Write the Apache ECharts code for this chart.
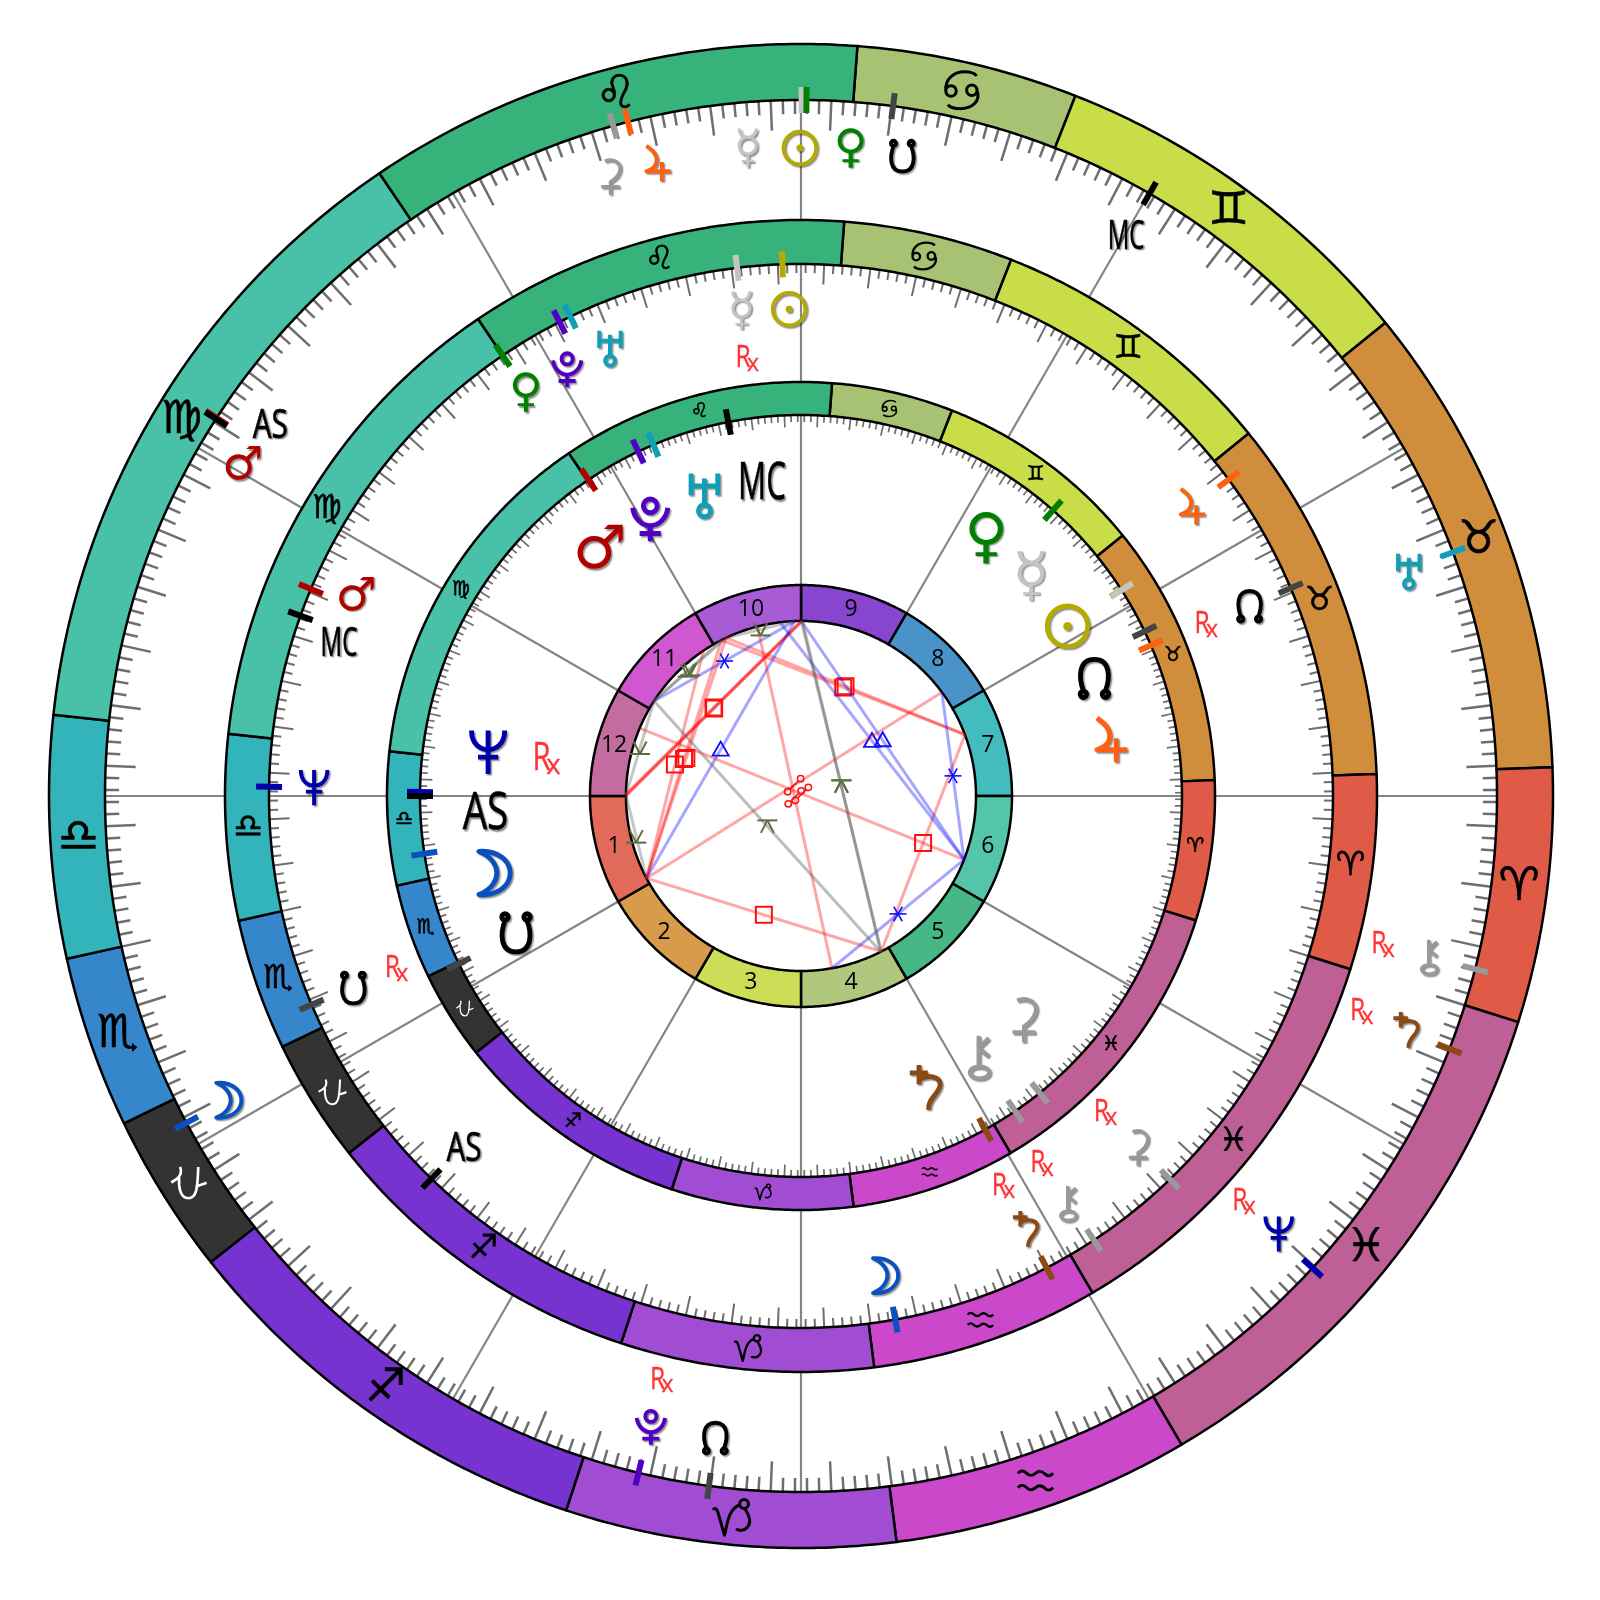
<!DOCTYPE html>
<html><head><meta charset="utf-8">
<style>html,body{margin:0;padding:0;background:#fff}#c{width:1600px;height:1600px}</style>
<script src="https://cdn.jsdelivr.net/npm/echarts@6/dist/echarts.min.js"></script>
</head><body><div id="c"></div>
<script>
// ---- zodiac (clockwise from the top of the wheel) ----
const signNames  = ['Cancer','Gemini','Taurus','Aries','Pisces','Aquarius','Capricorn','Sagittarius','Ophiuchus','Scorpio','Libra','Virgo','Leo'];
const signGlyphs = ['♋','♊','♉','♈','♓','♒','♑','♐','⛎','♏','♎','♍','♌'];
const signStart  = [4.3,21.4,51,87.8,107.5,149.6,172.7,198.2,231.7,244.2,257.5,276.2,325.9];
const signEnd    = [21.4,51,87.8,107.5,149.6,172.7,198.2,231.7,244.2,257.5,276.2,325.9,364.3];
const signLabelAt= [12.9,36.2,69.4,97.3,128.7,161.1,185.4,215,237.8,250.7,266.6,301.2,345.2];
const signColors = ['#a6c272','#c9dd48','#d08e3c','#e05a48','#be5f95','#cb48cb','#a04dd3','#7733d0','#333333','#3686cc','#33b4bb','#48c1a8','#37b27a'];
// ---- houses ----
const houseNumbers = ['9','8','7','6','5','4','3','2','1','12','11','10'];
const houseColors  = ['#8845d0','#4a93c8','#43bcc0','#55c5aa','#46b785','#b0c77e','#cddd58','#d89a4b','#e26a5a','#c36c9f','#d057cf','#a85bd5'];
const houseCusps   = [0,30,60,90,120,150,180,210,240,270,300,330];
// ---- bodies ----
const bodyGlyph = {Mercury:'☿',Venus:'♀',Mars:'♂',AS:'AS',MC:'MC'};
const bodyColor = {Sun:'#b5ab00',Moon:'#0a50c0',Mercury:'#c4c4c4',Venus:'#008000',Mars:'#b00000',Jupiter:'#ff6010',Saturn:'#8b4a14',Uranus:'#0fa0b8',Neptune:'#0000aa',Pluto:'#5200c4',Chiron:'#999999',Ceres:'#999999',NNode:'#444444',SNode:'#444444',AS:'#000000',MC:'#000000'};
// outer wheel
const outerBodies  = ['Ceres','Jupiter','Sun','Mercury','Venus','SNode','MC','Uranus','Chiron','Saturn','Neptune','NNode','Pluto','Moon','Mars','AS'];
const outerMarkers = [344.35,345.6,0.25,0.05,0.45,7.6,30.06,69.5,104.4,111.3,132.7,187.6,193.5,242,302.9,302.8];
const outerLabels  = [342.9,347.3,359.9,355.3,4.4,9,30.1,69.7,104.4,111.1,132.5,187.6,193.4,242,300.5,305];
const outerRetro   = ['Chiron','Saturn','Neptune','Pluto'];
// middle wheel
const middleBodies  = ['Sun','Mercury','Uranus','Pluto','Venus','Mars','MC','Neptune','SNode','AS','Moon','Saturn','Chiron','Ceres','NNode','Jupiter'];
const middleMarkers = [358,353.1,334.3,333,325.9,292.9,289.8,271,246.9,224,169.8,152.5,146.6,136.1,67,53.5];
const middleLabels  = [358.6,353,336.9,331.3,325.6,294,288.4,271,246.8,223.8,170,152.6,146.8,136.2,67.1,53.6];
const middleRetro   = ['Mercury','SNode','Saturn','Chiron','Ceres','NNode'];
// inner wheel
const innerBodies  = ['MC','Uranus','Pluto','Mars','Neptune','AS','Moon','SNode','Saturn','Chiron','Ceres','Jupiter','NNode','Sun','Mercury','Venus'];
const innerMarkers = [349,337.2,334.7,326.1,270.6,270,261.3,243.9,151.1,145.8,141.2,66.7,64.4,57.2,57.3,41.4];
const innerLabels  = [352.9,342.2,331.5,320.4,278,267,255.9,244.4,156.9,145.8,135.1,79.9,68.2,57.5,46.7,35.9];
const innerRetro   = ['Neptune'];
// ---- aspects: [from, to] wheel angle ----
const squares     = [[270.3,0.1],[270,0.45],[270.6,0.25],[242,333],[242,334.7],[242,326.1],[333,69.5],[334.7,69.5],[69.5,152.7],[242,152.7]];
const oppositions = [[242,53.6],[292.8,111.3],[345.6,169.8]];
const trines      = [[242,358],[353.1,111.3],[0.1,111.3]];
const sextiles    = [[302.9,358],[53.6,111.3],[169.8,111.3]];
const semisextiles= [[302.9,334.7],[302.8,333],[334.7,358],[270.3,302.9],[270.3,242]];
const quincunxes  = [[0.1,152.7],[0.45,152.9],[302.9,152.9]];

// ---- glyph outlines (astrological symbols whose drawing style the installed fonts do not have) ----
const circ=(x,y,rx,ry)=>`M${x-rx},${y} A${rx},${ry} 0 1 0 ${x+rx},${y} A${rx},${ry} 0 1 0 ${x-rx},${y} Z `;
const glyphPaths={
  Sun:circ(0,0,44,44)+circ(0,0,4,4),
  Moon:'M-34,-47 C10,-50 34,-25 34,0 C34,25 10,50 -34,47 C-5,35 5,15 5,0 C5,-15 -5,-35 -34,-47 Z',
  Jupiter:'M-33,-49 C-18,-38 -5,-28 -5,-10 C-5,5 -18,15 -33,20 L33,20 M9,-5 L9,47',
  Saturn:'M-13,-47 L-13,-5 M-33,-30 L6,-30 M-13,-15 C5,-28 33,-22 33,-5 C33,15 5,25 8,50',
  Uranus:'M-29,-47 L-29,0 M29,-47 L29,0 M-29,-20 L29,-20 M0,-36 L0,22 '+circ(0,34,13,13),
  Neptune:'M-36,-47 C-36,-15 -15,-5 0,-5 C15,-5 36,-15 36,-47 M0,-47 L0,48 M-22,11 L22,11',
  Pluto:circ(0,-27,15,15)+'M-38,-23 C-36,0 -18,16 0,16 C18,16 36,0 38,-23 M0,16 L0,50 M-23,33 L23,33',
  Chiron:'M0,-47 L0,20 M0,-20 L22,-42 M0,-20 L22,-2 '+circ(2,33,21,13),
  Ceres:'M-15,-42 C10,-52 28,-35 26,-20 C24,-5 10,8 0,14 L0,49 M-25,27 L25,27',
  NNode:circ(-24,34,7,7)+circ(24,34,7,7)+'M-24,26 C-34,0 -36,-42 0,-42 C36,-42 34,0 24,26',
  SNode:circ(-24,-34,7,7)+circ(24,-34,7,7)+'M-24,-26 C-34,0 -36,42 0,42 C36,42 34,0 24,-26',
  Ophiuchus:'M-25,-45 C-15,-15 -40,-5 -52,2 M-28,-12 C-30,15 -25,50 0,50 C25,50 28,20 30,-45 M22,15 C35,10 45,8 55,3',
  Cancer:circ(-29,2,13,13)+circ(23,0,13,13)+'M-42,2 C-45,-30 -20,-46 5,-46 C20,-46 30,-42 35,-36 M36,0 C47,30 20,46 -5,46 C-20,46 -32,42 -37,36',
  Capricorn:'M-50,-18 C-44,-24 -40,-20 -37,-10 L-21,46 C-14,20 -12,-20 18,-30 '+circ(28,-32,11,11)+'M30,-20 C38,-8 48,10 38,24 C30,36 14,36 8,30',
  Aquarius:'M-44,-19 C-36,-29 -28,-25 -22,-19 C-14,-11 -8,-13 0,-19 C8,-27 14,-25 22,-19 C30,-11 36,-11 44,-19 M-44,17 C-36,7 -28,11 -22,17 C-14,25 -8,23 0,17 C8,9 14,11 22,17 C30,25 36,25 44,17'
};
// ---- layout ----
const R = {max:752, outerIn:696, midOut:576, midIn:532, innerOut:414, innerIn:381, houseOut:211, houseIn:175};
const rings = [
 {o:R.max,i:R.outerIn,glyphR:724,tickW:2.5,short:14,long:30,bodyR:648,rxR:601,bodyFs:46,gs:0.37,rx:1.05,asFs:40,signFs:46,oph:0.33,signS:0.4,signW:7.5},
 {o:R.midOut,i:R.midIn,glyphR:554,tickW:2,short:9,long:20,bodyR:487,rxR:440,bodyFs:46,gs:0.37,rx:1.05,asFs:40,signFs:33,oph:0.26,signS:0.29,signW:8},
 {o:R.innerOut,i:R.innerIn,glyphR:397.5,tickW:1.7,short:7,long:12,bodyR:316,rxR:257,bodyFs:60,gs:0.46,rx:1.25,asFs:52,signFs:20,oph:0.16,signS:0.175,signW:9}
];
const wheels = [
 {b:outerBodies,m:outerMarkers,l:outerLabels,x:outerRetro},
 {b:middleBodies,m:middleMarkers,l:middleLabels,x:middleRetro},
 {b:innerBodies,m:innerMarkers,l:innerLabels,x:innerRetro}
];
const SHADOW={textShadowColor:'rgba(0,0,0,0.45)',textShadowBlur:1.5,textShadowOffsetX:1.5,textShadowOffsetY:1.5};
const norm = a => ((a%360)+360)%360;
const P = (api,r,a) => api.coord([r,norm(a)]);
function sector(api,r0,r1,a0,a1,fill){
  const pts=[];const n=Math.max(2,Math.ceil((a1-a0)/0.5));
  for(let k=0;k<=n;k++)pts.push(P(api,r1,a0+(a1-a0)*k/n));
  for(let k=n;k>=0;k--)pts.push(P(api,r0,a0+(a1-a0)*k/n));
  return {type:'polygon',shape:{points:pts},style:{fill:fill,stroke:'#000',lineWidth:2.5,lineJoin:'round'}};
}
function line(p,q,stroke,w){return {type:'line',shape:{x1:p[0],y1:p[1],x2:q[0],y2:q[1]},style:{stroke:stroke,lineWidth:w,fill:null}};}
function text(p,t,fs,fill,opt){opt=opt||{};
  return {type:'text',x:p[0]+(opt.dx||0),y:p[1]+(opt.dy||0),scaleX:opt.sx||1,scaleY:opt.sy||1,style:Object.assign({text:t,x:0,y:0,fontSize:fs,fontFamily:opt.font||'DejaVu Sans',fill:fill,align:'center',verticalAlign:'middle'},opt.bold?{stroke:fill,lineWidth:opt.bold}:{},opt.shadow===false?{}:SHADOW)};
}
function glyph(p,name,scale,color,w,shadow){
  return {type:'path',x:p[0],y:p[1],scaleX:scale,scaleY:scale,shape:{pathData:glyphPaths[name]},
    style:Object.assign({fill:'none',stroke:color,lineWidth:w,lineJoin:'round'},shadow===false?{}:{shadowColor:'rgba(0,0,0,0.45)',shadowBlur:1.5,shadowOffsetX:1.5,shadowOffsetY:1.5})};
}
const custom = (data,fn,z) => ({type:'custom',coordinateSystem:'polar',z:z,silent:true,animation:false,clip:false,data:data,encode:{radius:0,angle:1},renderItem:(p,api)=>fn(p.dataIndex,api)});

const series=[];
// house radials
series.push(custom(houseCusps.map(a=>[R.outerIn,a]),(i,api)=>line(P(api,R.houseOut,houseCusps[i]),P(api,R.outerIn,houseCusps[i]),'#858585',2.2),1));
// degree ticks
rings.forEach(g=>{
  const ticks=[];for(let k=0;k<360;k++)ticks.push([g.i,k+0.5]);
  series.push(custom(ticks,(i,api)=>{const long=i%5===2;const a=i+0.5;return line(P(api,g.i,a),P(api,g.i-(long?g.long:g.short),a),'#6e6e6e',g.tickW);},2));
});
// zodiac rings
rings.forEach(g=>{
  series.push(custom(signNames.map((n,i)=>[g.o,signStart[i]]),(i,api)=>sector(api,g.i,g.o,signStart[i],signEnd[i],signColors[i]),3));
  series.push(custom(signNames.map((n,i)=>[g.glyphR,signLabelAt[i]]),(i,api)=>{
    const p=P(api,g.glyphR,signLabelAt[i]),n=signNames[i];
    if(n==='Ophiuchus')return glyph(p,n,g.oph,'#fff',8,false);
    if(glyphPaths[n])return glyph(p,n,g.signS,'#000',g.signW,false);
    return text(p,signGlyphs[i]+'\uFE0E',g.signFs,'#000',{shadow:false,bold:0.6});
  },4));
});
// body markers, glyphs, Rx
rings.forEach((g,w)=>{
  const W=wheels[w];
  series.push(custom(W.b.map((b,i)=>[g.i,W.m[i]]),(i,api)=>{const c=W.m[i];return line(P(api,g.i-13,c),P(api,g.i+13,c),bodyColor[W.b[i]],6);},5));
  series.push(custom(W.b.map((b,i)=>[g.bodyR,W.l[i]]),(i,api)=>{
    const b=W.b[i],p=P(api,g.bodyR,W.l[i]);
    if(b==='AS'||b==='MC')return text(p,b,g.asFs,'#000',{font:'Open Sans',sx:b==='AS'?0.74:0.6,dy:2,bold:0.6});
    if(glyphPaths[b]){
      const col=(b==='NNode'||b==='SNode')?'#000':bodyColor[b];
      return glyph(p,b,g.gs,col,b==='Chiron'||b==='Ceres'?9:10.5);
    }
    return text(p,bodyGlyph[b],g.bodyFs,bodyColor[b],{});
  },6));
  series.push(custom(W.x.map(b=>[g.rxR,W.l[W.b.indexOf(b)]]),(i,api)=>{
    const p=P(api,g.rxR,W.l[W.b.indexOf(W.x[i])]),s=g.rx;
    return {type:'group',children:[
      text(p,'R',30*s,'#ff3333',{font:'Open Sans',sx:0.78,dx:-4*s,dy:-1*s,shadow:false,bold:0.3}),
      text(p,'x',22*s,'#ff3333',{font:'Open Sans',dx:5.5*s,dy:5*s,shadow:false,bold:0.3})
    ]};
  },6));
});
// houses
series.push(custom(houseCusps.map(a=>[R.houseOut,a]),(i,api)=>sector(api,R.houseIn,R.houseOut,houseCusps[i],houseCusps[i]+30,houseColors[i]),7));
series.push(custom(houseCusps.map(a=>[193,a+15]),(i,api)=>text(P(api,193.5,houseCusps[i]+15),houseNumbers[i],23,'#000',{font:'Open Sans',shadow:false}),8));
// aspects
const mid=(p,q)=>[(p[0]+q[0])/2,(p[1]+q[1])/2];
function aspectSeries(list,stroke,symbol){
  series.push(custom(list.map(a=>[R.houseIn,a[0]]),(i,api)=>{
    const p=P(api,R.houseIn,list[i][0]),q=P(api,R.houseIn,list[i][1]),m=mid(p,q);
    return {type:'group',children:[line(p,q,stroke,3)].concat(symbol(m))};
  },9));
}
const RED='#ff1010',BLUE='#1010ff',OLIVE='#5a7040';
aspectSeries(squares,'rgba(255,0,0,0.35)',m=>[{type:'rect',shape:{x:m[0]-8,y:m[1]-8,width:16,height:16},style:{fill:null,stroke:RED,lineWidth:2}}]);
aspectSeries(trines,'rgba(0,0,255,0.35)',m=>[{type:'polygon',shape:{points:[[m[0],m[1]-8],[m[0]+8,m[1]+6],[m[0]-8,m[1]+6]]},style:{fill:null,stroke:BLUE,lineWidth:1.9}}]);
aspectSeries(sextiles,'rgba(0,0,255,0.35)',m=>[0,60,120].map(d=>{const t=d*Math.PI/180,c=8.5*Math.cos(t),s=8.5*Math.sin(t);return line([m[0]-c,m[1]-s],[m[0]+c,m[1]+s],BLUE,1.6);}));
aspectSeries(oppositions,'rgba(255,0,0,0.35)',m=>[
  line([m[0]-4,m[1]+4],[m[0]+4,m[1]-4],RED,1.5),
  {type:'circle',shape:{cx:m[0]+6.5,cy:m[1]-6.5,r:3.2},style:{fill:null,stroke:RED,lineWidth:1.5}},
  {type:'circle',shape:{cx:m[0]-6.5,cy:m[1]+6.5,r:3.2},style:{fill:null,stroke:RED,lineWidth:1.5}}]);
aspectSeries(semisextiles,'rgba(90,90,90,0.35)',m=>[
  line([m[0]-10,m[1]+6],[m[0]+10,m[1]+6],OLIVE,2),
  line([m[0],m[1]+6],[m[0]-6.5,m[1]-6.5],OLIVE,2),
  line([m[0],m[1]+6],[m[0]+6.5,m[1]-6.5],OLIVE,2)]);
aspectSeries(quincunxes,'rgba(90,90,90,0.4)',m=>[
  line([m[0]-10,m[1]-6],[m[0]+10,m[1]-6],OLIVE,2),
  line([m[0],m[1]-6],[m[0]-6.5,m[1]+6.5],OLIVE,2),
  line([m[0],m[1]-6],[m[0]+6.5,m[1]+6.5],OLIVE,2)]);

const chart=echarts.init(document.getElementById('c'),null,{renderer:'canvas',width:1600,height:1600});
chart.setOption({
  animation:false,backgroundColor:'#ffffff',
  polar:{center:[801,796],radius:[0,R.max]},
  angleAxis:{type:'value',min:0,max:360,startAngle:90,clockwise:true,show:false},
  radiusAxis:{type:'value',min:0,max:R.max,show:false},
  tooltip:{show:false},
  series:series
});
</script></body></html>
